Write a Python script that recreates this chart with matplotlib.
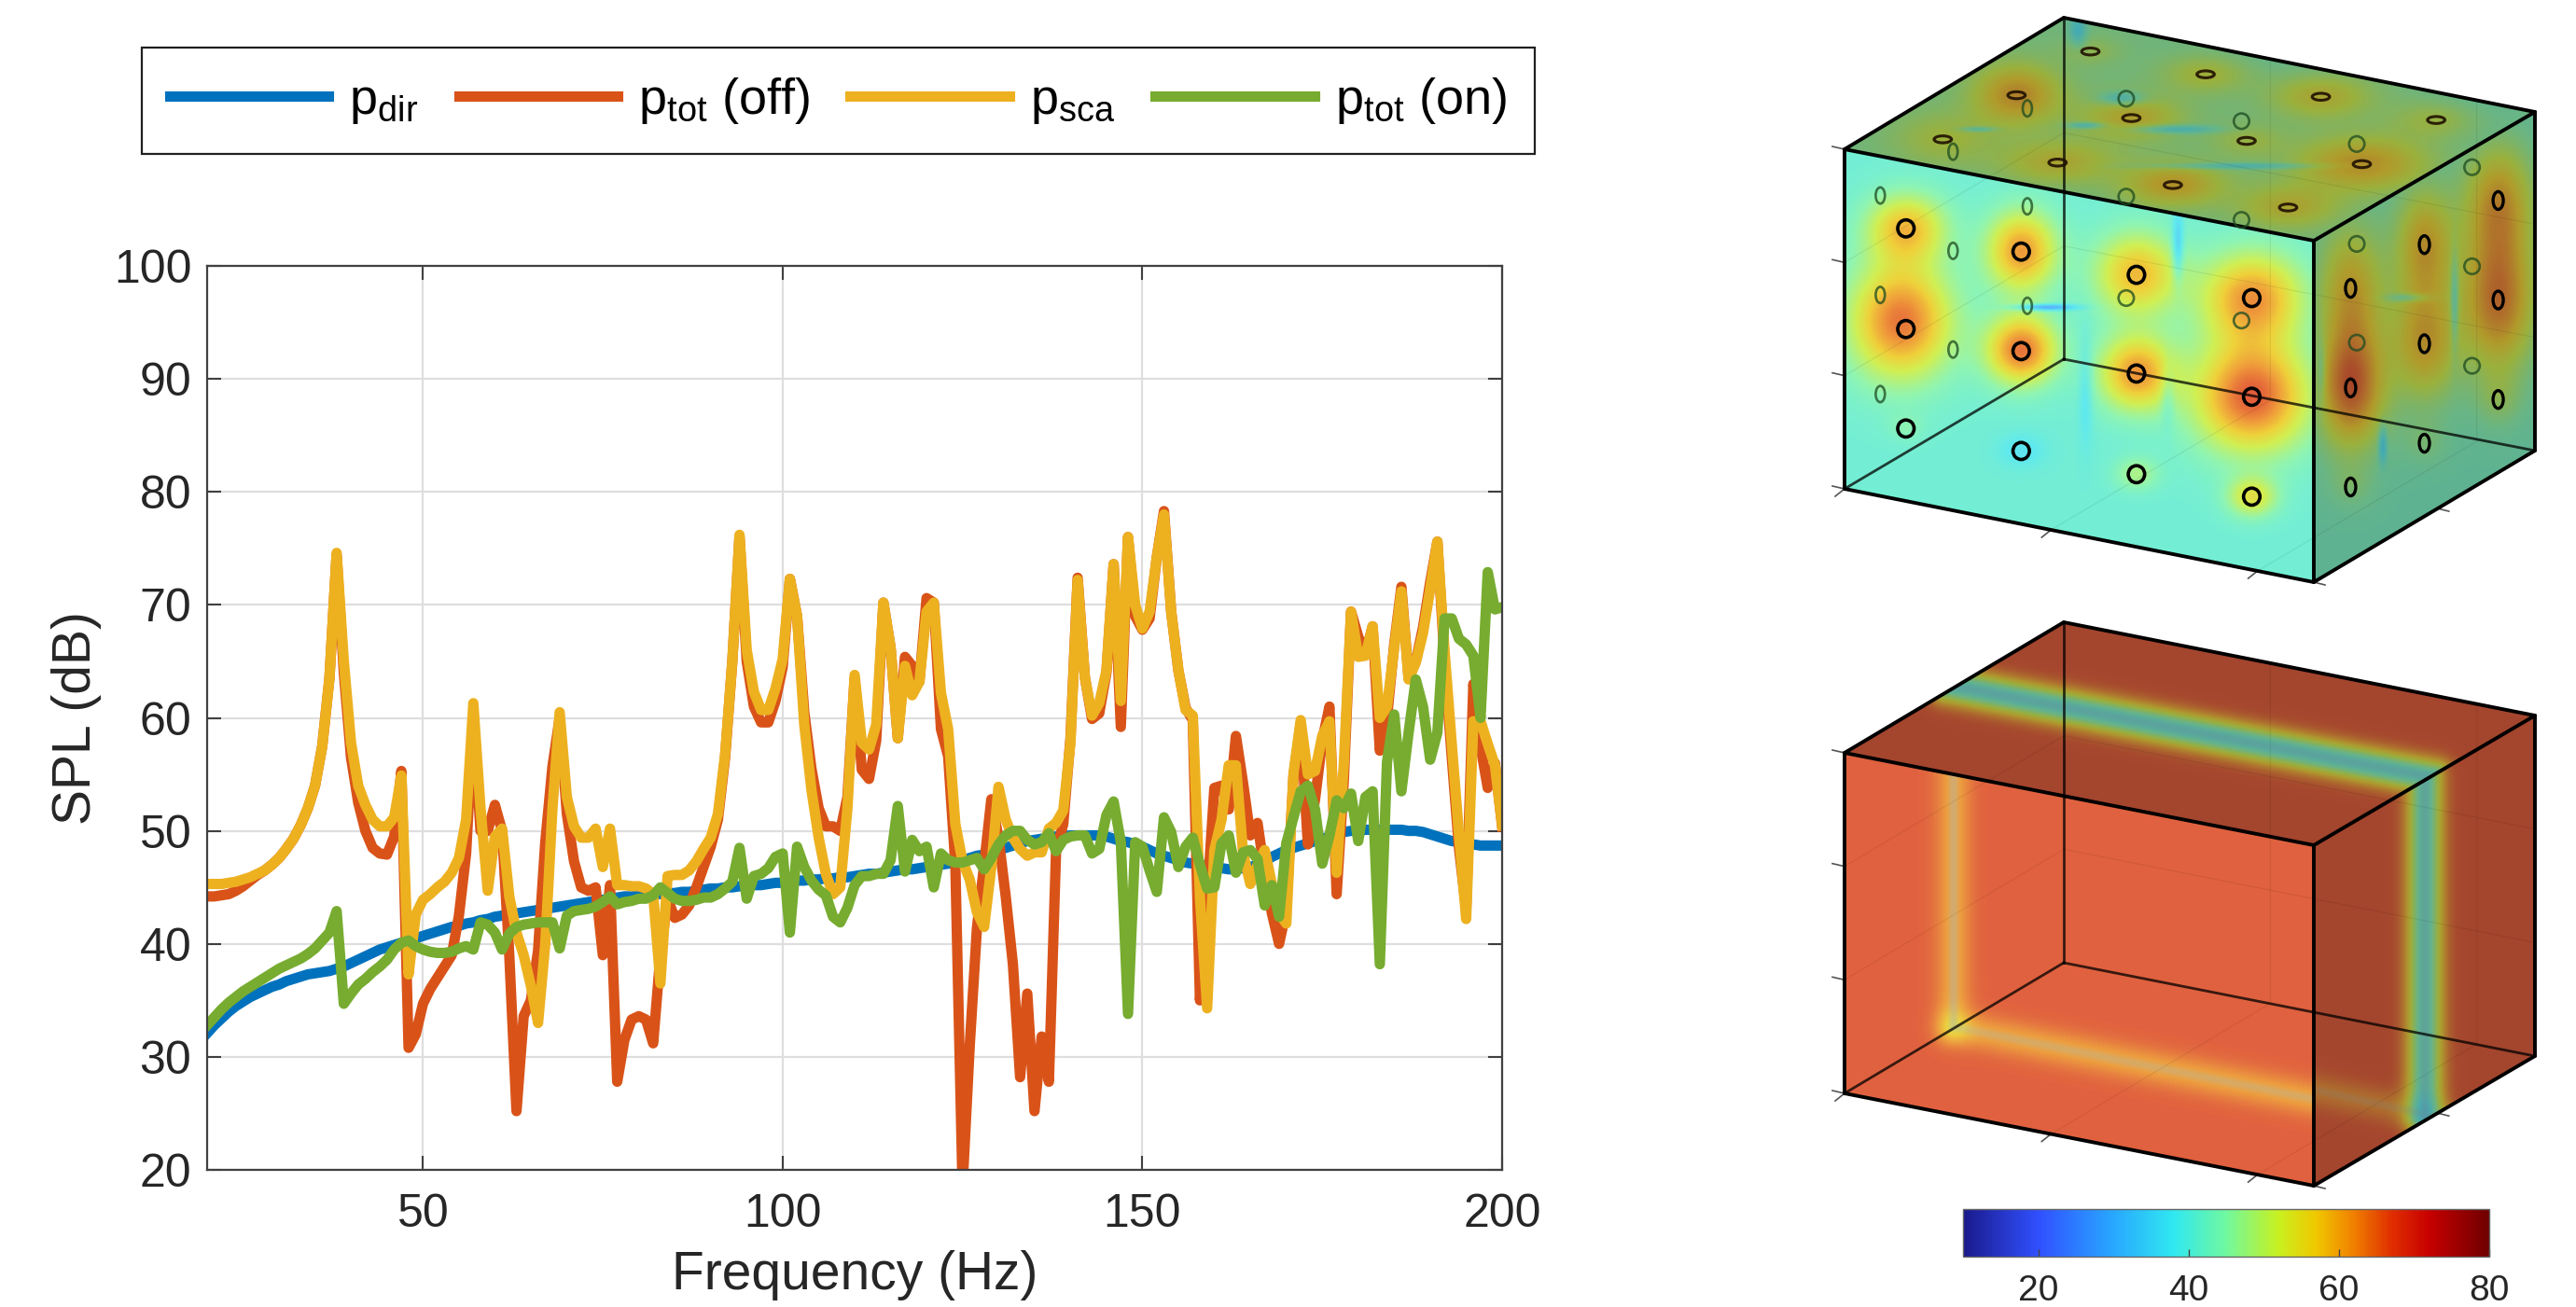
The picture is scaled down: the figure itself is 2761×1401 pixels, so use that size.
import numpy as np
import matplotlib
matplotlib.use('Agg')
import matplotlib.pyplot as plt
from matplotlib.colors import LinearSegmentedColormap, Normalize
from matplotlib.cm import ScalarMappable
from matplotlib.patches import Ellipse, Polygon

plt.rcParams['font.family'] = ['Liberation Sans', 'DejaVu Sans']
plt.rcParams['mathtext.fontset'] = 'custom'
plt.rcParams['mathtext.rm'] = 'Liberation Sans'

W, H = 2761, 1401

# --- spectrum data, 1 Hz steps ---
freq = np.arange(20, 201)
p_dir = [32.1, 32.8, 33.4, 34.0, 34.5, 34.9, 35.3, 35.6, 35.9, 36.2,
         36.4, 36.7, 36.9, 37.1, 37.3, 37.4, 37.5, 37.6, 37.8, 38.0,
         38.3, 38.6, 38.9, 39.2, 39.5, 39.7, 39.9, 40.1, 40.3, 40.5,
         40.7, 40.9, 41.1, 41.3, 41.5, 41.6, 41.8, 41.9, 42.1, 42.2,
         42.4, 42.5, 42.6, 42.7, 42.8, 42.9, 43.0, 43.1, 43.2, 43.3,
         43.4, 43.5, 43.6, 43.7, 43.8, 43.9, 44.0, 44.1, 44.2, 44.2,
         44.3, 44.3, 44.4, 44.4, 44.5, 44.5, 44.6, 44.6, 44.7, 44.8,
         44.9, 44.9, 45.0, 45.0, 45.1, 45.1, 45.2, 45.2, 45.3, 45.4,
         45.4, 45.5, 45.6, 45.6, 45.7, 45.7, 45.8, 45.8, 45.9, 45.9,
         46.0, 46.1, 46.2, 46.2, 46.3, 46.4, 46.5, 46.6, 46.6, 46.7,
         46.8, 46.9, 47.0, 47.1, 47.2, 47.4, 47.6, 47.8, 47.9, 48.1,
         48.3, 48.5, 48.7, 48.9, 49.1, 49.2, 49.3, 49.4, 49.5, 49.5,
         49.6, 49.6, 49.6, 49.6, 49.6, 49.5, 49.3, 49.1, 49.0, 48.8,
         48.6, 48.3, 48.0, 47.8, 47.6, 47.4, 47.2, 47.1, 47.0, 46.9,
         46.8, 46.7, 46.6, 46.6, 46.7, 46.8, 47.0, 47.3, 47.7, 48.0,
         48.3, 48.5, 48.7, 48.9, 49.1, 49.3, 49.5, 49.7, 49.9, 50.0,
         50.0, 50.1, 50.1, 50.1, 50.1, 50.1, 50.1, 50.0, 50.0, 49.9,
         49.7, 49.5, 49.3, 49.1, 49.0, 48.8, 48.8, 48.7, 48.7, 48.7,
         48.7]
p_tot_off = [44.2, 44.2, 44.3, 44.4, 44.7, 45.1, 45.6, 46.1, 46.5, 47.0,
             47.6, 48.4, 49.3, 50.5, 52.0, 54.0, 57.5, 63.5, 74.4, 64.0,
             56.5, 52.5, 50.0, 48.5, 48.0, 47.9, 49.5, 55.3, 30.8, 32.0,
             34.7, 36.0, 37.0, 38.0, 39.0, 42.5, 48.0, 60.0, 50.0, 50.0,
             52.3, 50.0, 39.0, 25.2, 33.6, 35.0, 39.4, 49.0, 55.7, 60.0,
             51.5, 47.3, 45.0, 44.7, 45.0, 39.0, 45.2, 27.8, 31.5, 33.3,
             33.6, 33.3, 31.2, 39.0, 44.0, 42.3, 42.6, 43.4, 45.0, 46.8,
             48.6, 51.0, 56.5, 65.0, 76.0, 65.0, 61.0, 59.6, 59.6, 61.5,
             64.5, 72.3, 69.0, 60.5, 55.5, 52.0, 50.4, 50.4, 50.0, 53.0,
             63.5, 55.4, 54.6, 58.0, 70.2, 66.2, 58.2, 65.4, 64.6, 63.2,
             70.6, 70.2, 59.0, 56.6, 47.0, 18.5, 31.0, 41.4, 47.0, 52.8,
             49.4, 44.2, 38.2, 28.2, 35.6, 25.2, 31.8, 27.8, 48.2, 50.6,
             58.2, 72.4, 63.6, 59.9, 60.4, 64.0, 73.6, 59.2, 76.0, 69.0,
             67.8, 68.8, 74.2, 78.3, 69.4, 64.2, 60.9, 59.8, 35.0, 44.0,
             53.8, 54.0, 51.9, 58.4, 54.2, 49.6, 50.7, 46.3, 42.7, 40.0,
             43.0, 54.8, 59.5, 48.8, 52.8, 58.0, 61.0, 44.4, 54.5, 69.4,
             67.2, 65.6, 68.1, 57.1, 60.0, 66.5, 71.6, 63.5, 65.0, 68.0,
             72.0, 75.6, 65.0, 56.5, 48.5, 43.0, 63.0, 57.5, 53.8, 56.0,
             50.4]
p_sca = [45.3, 45.3, 45.3, 45.4, 45.5, 45.7, 45.9, 46.2, 46.5, 47.0,
         47.6, 48.4, 49.3, 50.5, 52.0, 54.0, 57.5, 63.5, 74.6, 65.0,
         57.8, 54.0, 52.3, 51.0, 50.4, 50.4, 51.2, 54.9, 37.3, 42.6,
         43.9, 44.4, 45.0, 45.5, 46.3, 47.6, 51.0, 61.3, 52.0, 44.7,
         49.5, 50.2, 44.2, 41.0, 39.0, 36.3, 33.0, 40.0, 52.0, 60.5,
         53.0, 50.4, 49.4, 49.4, 50.2, 46.8, 50.2, 45.2, 45.2, 45.1,
         45.1, 44.9, 44.4, 36.5, 46.0, 46.1, 46.1, 46.5, 47.3, 48.4,
         49.4, 51.5, 56.8, 65.0, 76.2, 66.0, 62.3, 60.7, 60.7, 62.6,
         65.2, 72.3, 69.0, 59.4, 53.6, 49.4, 46.2, 44.4, 45.0, 52.0,
         63.8, 57.8, 57.2, 59.4, 70.2, 66.2, 58.2, 64.6, 62.0, 63.2,
         69.4, 70.2, 62.2, 59.0, 50.6, 47.3, 45.7, 42.8, 41.5, 46.8,
         53.9, 51.0, 49.4, 48.4, 47.8, 48.1, 48.1, 50.2, 50.7, 51.8,
         57.8, 72.2, 63.6, 60.2, 61.3, 64.2, 73.6, 61.5, 76.0, 70.0,
         67.9, 69.4, 74.2, 78.0, 69.4, 64.2, 60.7, 60.2, 44.1, 34.3,
         48.3, 51.0, 55.8, 55.8, 48.0, 45.3, 47.0, 48.3, 45.3, 42.7,
         41.8, 55.1, 59.8, 55.0, 55.3, 58.4, 59.7, 46.3, 56.0, 69.4,
         65.4, 65.5, 68.1, 60.0, 61.0, 66.2, 71.2, 63.4, 64.9, 67.5,
         71.4, 75.6, 65.9, 57.7, 49.7, 42.2, 59.7, 59.7, 57.7, 55.8,
         50.5]
p_tot_on = [32.8, 33.5, 34.2, 34.8, 35.3, 35.8, 36.2, 36.6, 37.0, 37.4,
            37.8, 38.1, 38.4, 38.7, 39.1, 39.6, 40.3, 41.0, 42.9, 34.7,
            35.6, 36.4, 36.9, 37.5, 38.0, 38.6, 39.5, 40.1, 40.3, 39.8,
            39.5, 39.3, 39.2, 39.2, 39.3, 39.6, 39.8, 39.5, 41.9, 41.7,
            41.0, 39.5, 40.9, 41.5, 41.7, 41.8, 41.9, 41.9, 41.9, 39.6,
            42.5, 42.9, 43.0, 43.1, 43.3, 43.7, 44.2, 43.5, 43.7, 43.8,
            44.0, 44.0, 44.3, 45.0, 44.5, 44.0, 43.8, 43.8, 43.9, 44.1,
            44.1, 44.4, 44.9, 45.5, 48.5, 44.0, 46.0, 46.2, 46.7, 47.7,
            48.0, 41.0, 48.6, 46.8, 45.6, 44.8, 44.3, 42.4, 41.9, 43.2,
            45.2, 46.0, 46.0, 46.2, 46.2, 47.4, 52.2, 46.4, 49.2, 48.2,
            48.6, 45.0, 48.0, 47.4, 47.2, 47.2, 47.4, 47.6, 46.6, 47.6,
            48.8, 49.6, 50.0, 50.0, 49.2, 48.8, 49.0, 49.8, 48.2, 49.2,
            49.5, 49.6, 49.6, 48.0, 48.4, 51.4, 52.6, 49.0, 33.8, 49.0,
            48.6, 46.5, 44.6, 51.2, 49.9, 46.8, 48.6, 49.4, 47.0, 44.9,
            45.0, 48.9, 49.6, 46.3, 48.1, 48.3, 47.5, 43.4, 45.2, 42.4,
            48.9, 51.2, 53.5, 54.0, 51.9, 47.1, 49.6, 52.7, 52.0, 53.3,
            49.1, 53.0, 53.5, 38.2, 56.1, 60.3, 53.5, 58.7, 63.4, 61.0,
            56.3, 58.7, 68.8, 68.8, 67.0, 66.5, 65.5, 60.0, 72.9, 69.6,
            69.8]

series_labels = [r'p$_{\mathrm{dir}}$', r'p$_{\mathrm{tot}}$ (off)', r'p$_{\mathrm{sca}}$', r'p$_{\mathrm{tot}}$ (on)']
series_colors = ['#0072BD', '#D95319', '#EDB120', '#77AC30']

# --- colour scale ---
cbar_ticks = [20, 40, 60, 80]
cmap_stops = [(10, '#1a1a8c'), (20, '#3050ff'), (30, '#28a8ff'), (38, '#30e8f0'), (45, '#70f8a0'),
              (52, '#c8f020'), (57, '#f0c800'), (62, '#f08000'), (67, '#e03000'), (72, '#c80000'), (80, '#700000')]
field_cmap = LinearSegmentedColormap.from_list('field', [((v - 10) / 70, c) for v, c in cmap_stops])
field_norm = Normalize(10, 80)

# --- box corners in figure pixels: A B C D front, E F G H back ---
box1 = dict(A=(1977, 160), B=(2480, 258), C=(2480, 624), D=(1977, 524),
            E=(2212, 19), F=(2717, 120), G=(2717, 483), H=(2212, 385))
box2 = dict(A=(1977, 807), B=(2480, 906), C=(2480, 1271), D=(1977, 1172),
            E=(2212, 667), F=(2717, 767), G=(2717, 1132), H=(2212, 1032))

# hot spots of the upper box, positions: x, y, sx, sy, dB
front_spots = [(260, 590, 55, 62, 17), (485, 650, 48, 72, 21), (710, 710, 58, 75, 18), (935, 770, 70, 82, 21),
               (250, 830, 70, 105, 24), (485, 905, 48, 62, 24), (710, 965, 52, 68, 21), (935, 1025, 78, 100, 26),
               (260, 1105, 24, 24, 3), (485, 1165, 32, 30, -4), (710, 1225, 30, 30, 7), (935, 1285, 34, 36, 13),
               (790, 640, 8, 60, -10), (530, 795, 40, 6, -16), (610, 1000, 10, 100, -5), (770, 1020, 10, 60, -5)]
right_spots = [(1128, 745, 46, 120, 14), (1272, 632, 40, 105, 15), (1416, 518, 48, 105, 15),
               (1128, 1002, 46, 110, 22), (1272, 888, 46, 105, 15), (1416, 775, 50, 130, 20),
               (1128, 1258, 30, 40, 3), (1272, 1145, 30, 40, 3), (1416, 1032, 30, 50, 4),
               (1190, 1150, 6, 35, -10), (1330, 780, 6, 90, -10), (1240, 770, 30, 8, -8), (1070, 960, 6, 60, -6)]
top_spots = [(620, 133, 40, 25, 4), (845, 192, 60, 35, 7), (1070, 250, 70, 40, 9), (1295, 310, 60, 35, 6),
             (476, 246, 60, 55, 14), (700, 305, 70, 40, 10), (925, 364, 50, 30, 5), (1150, 424, 90, 50, 13),
             (332, 360, 70, 50, 6), (556, 420, 80, 40, 9), (781, 478, 70, 40, 12), (1006, 536, 70, 40, 9),
             (780, 335, 60, 8, -10), (610, 325, 25, 6, -10), (900, 430, 120, 6, -8), (595, 80, 12, 30, -9),
             (680, 255, 30, 12, -10), (400, 335, 25, 5, -8), (1380, 190, 80, 120, -3), (1000, 130, 120, 50, -2)]

# rings seen on the upper box: x, y per group
rings_front = [(260, 590), (485, 650), (710, 710), (935, 770), (260, 850), (485, 907), (710, 965), (935, 1025),
               (260, 1107), (485, 1165), (710, 1225), (935, 1283)]
rings_right = [(1128, 745), (1272, 632), (1416, 518), (1128, 1002), (1272, 888), (1416, 775),
               (1128, 1258), (1272, 1145), (1416, 1032)]
rings_top = [(620, 133), (845, 192), (1070, 250), (1295, 310), (476, 246), (700, 305), (925, 364), (1150, 424),
             (332, 360), (556, 420), (781, 478), (1006, 536)]
rings_left = [(210, 505), (497, 533), (352, 648), (210, 762), (497, 790), (352, 903), (210, 1018), (352, 392), (497, 280)]
rings_back = [(690, 770), (915, 828), (690, 508), (915, 568), (690, 255), (915, 313), (1140, 372), (1365, 432),
              (1140, 630), (1365, 688), (1140, 885), (1365, 945)]

# nodal stripes of the lower box, crop positions: x0, y0, x1, y1, dip, sigma, grey
top_stripes = [(340, 195, 1290, 400, 28, 24, 0.3)]
right_stripes = [(1272, 400, 1272, 1150, 27, 24, 0.3), (1060, 1090, 1300, 1150, 5, 24, 0.3)]
front_stripes = [(352, 200, 352, 950, 6, 24, 0.5), (352, 950, 1057, 1110, 6, 24, 0.4)]


def crop1(x, y):
    return 1900 + x / 1.821, y / 2.41


def crop2(x, y):
    return 1900 + x / 1.821, 640 + y / 2.06


def spot_field(X, Y, base, spots):
    F = np.full(X.shape, float(base))
    for x, y, sx, sy, amp in spots:
        cx, cy = crop1(x, y)
        F += amp * np.exp(-((X - cx) / (sx / 1.821)) ** 2 / 2 - ((Y - cy) / (sy / 2.41)) ** 2 / 2)
    return F, np.full(X.shape, 0.06)


def stripe_field(X, Y, base, stripes):
    F = np.full(X.shape, float(base))
    G = np.full(X.shape, 0.1)
    for x0, y0, x1, y1, dip, sigma, grey in stripes:
        ax_, ay_ = crop2(x0, y0)
        bx_, by_ = crop2(x1, y1)
        dx, dy = bx_ - ax_, by_ - ay_
        t = np.clip(((X - ax_) * dx + (Y - ay_) * dy) / (dx * dx + dy * dy), 0, 1)
        d = np.hypot(X - ax_ - t * dx, Y - ay_ - t * dy)
        F = F - dip * np.exp(-(d / (sigma / 1.821)) ** 2 / 2)
        G = np.maximum(G, grey * np.exp(-(d / 6.0) ** 2))
    return F, G


def draw_face(ax, corners, field, shade):
    pts = np.array(corners, dtype=float)
    x0, y0 = np.floor(pts.min(axis=0)).astype(int)
    x1, y1 = np.ceil(pts.max(axis=0)).astype(int)
    X, Y = np.meshgrid(np.arange(x0, x1 + 1), np.arange(y0, y1 + 1))
    F, G = field(X, Y)
    rgb = field_cmap(field_norm(F))[..., :3]
    rgb = rgb * (1 - G[..., None]) + np.array([0.62, 0.62, 0.6]) * G[..., None]
    rgb = (0.8 * rgb + 0.2) * shade
    im = ax.imshow(rgb, extent=(x0 - 0.5, x1 + 0.5, y1 + 0.5, y0 - 0.5), interpolation='bilinear', zorder=1)
    im.set_clip_path(Polygon(pts, closed=True, transform=ax.transData))


def draw_box_lines(ax, box):
    P = {k: np.array(v, dtype=float) for k, v in box.items()}
    # faint grid first
    for f in (1 / 3, 2 / 3):
        q = P['D'] + (P['A'] - P['D']) * f
        r = q + P['H'] - P['D']
        ax.plot([q[0], r[0], r[0] + P['G'][0] - P['H'][0]], [q[1], r[1], r[1] + P['G'][1] - P['H'][1]],
                color='k', lw=0.8, alpha=0.08, zorder=2)
    for f in (0.44, 0.88):
        q = P['D'] + (P['C'] - P['D']) * f
        r = q + P['H'] - P['D']
        ax.plot([q[0], r[0], r[0] + P['E'][0] - P['H'][0]], [q[1], r[1], r[1] + P['E'][1] - P['H'][1]],
                color='k', lw=0.8, alpha=0.08, zorder=2)
    # edges behind
    for a, b in ['EH', 'HD', 'HG']:
        ax.plot([P[a][0], P[b][0]], [P[a][1], P[b][1]], color='k', lw=2.0, alpha=0.75, zorder=4)
    # edges in front
    for a, b in ['AB', 'BC', 'CD', 'DA', 'AE', 'EF', 'FB', 'FG', 'GC']:
        ax.plot([P[a][0], P[b][0]], [P[a][1], P[b][1]], color='k', lw=2.8, zorder=5, solid_capstyle='round')
    # outer ticks
    for f in (0, 1 / 3, 2 / 3, 1):
        q = P['D'] + (P['A'] - P['D']) * f
        ax.plot([q[0] - 13, q[0]], [q[1] - 3, q[1]], color='#555555', lw=1.2, zorder=3)
    for f in (0, 0.44, 0.88):
        q = P['D'] + (P['C'] - P['D']) * f
        ax.plot([q[0] - 10, q[0]], [q[1] + 8, q[1]], color='#555555', lw=1.2, zorder=3)
    for f in (0, 0.56):
        q = P['C'] + (P['G'] - P['C']) * f
        ax.plot([q[0], q[0] + 12], [q[1], q[1] + 3], color='#555555', lw=1.2, zorder=3)


def draw_box(ax, box, front, right, top, shade=0.74):
    draw_face(ax, [box['A'], box['B'], box['C'], box['D']], front, 1.0)
    draw_face(ax, [box['B'], box['F'], box['G'], box['C']], right, shade)
    draw_face(ax, [box['A'], box['E'], box['F'], box['B']], top, shade)
    draw_box_lines(ax, box)


fig = plt.figure(figsize=(W / 100, H / 100), dpi=100, facecolor='white')

# --- boxes on a full-figure pixel axes ---
pix = fig.add_axes([0, 0, 1, 1])
pix.set_xlim(0, W)
pix.set_ylim(H, 0)
pix.axis('off')

draw_box(pix, box1,
         lambda X, Y: spot_field(X, Y, 41, front_spots),
         lambda X, Y: spot_field(X, Y, 43, right_spots),
         lambda X, Y: spot_field(X, Y, 46, top_spots))
draw_box(pix, box2,
         lambda X, Y: stripe_field(X, Y, 67, front_stripes),
         lambda X, Y: stripe_field(X, Y, 67.5, right_stripes),
         lambda X, Y: stripe_field(X, Y, 67.5, top_stripes))
pix.set_xlim(0, W)
pix.set_ylim(H, 0)
pix.set_aspect('auto')

for group, w, h, col, a, lw in [(rings_left, 18, 42, '#1c4a20', 0.75, 1.9), (rings_back, 30, 40, '#1c4a20', 0.75, 1.9),
                                (rings_front, 32, 44, 'k', 1.0, 2.6), (rings_right, 20, 46, 'k', 1.0, 2.4),
                                (rings_top, 34, 18, '#201000', 0.9, 2.2)]:
    for x, y in group:
        cx, cy = crop1(x, y)
        pix.add_patch(Ellipse((cx, cy), w / 1.821, h / 2.41, fill=False, edgecolor=col, alpha=a, lw=lw, zorder=6))

# --- spectrum ---
ax = fig.add_axes([222 / W, 1 - 1254 / H, 1388 / W, 969 / H])
for y, c, lab in zip([p_dir, p_tot_off, p_sca, p_tot_on], series_colors, series_labels):
    ax.plot(freq, y, color=c, lw=8, label=lab, solid_joinstyle='round')
ax.set_xlim(20, 200)
ax.set_ylim(20, 100)
ax.set_xticks([50, 100, 150, 200])
ax.set_yticks(range(20, 101, 10))
ax.grid(True, color='#dedede', lw=1.6)
ax.set_axisbelow(True)
ax.tick_params(direction='in', length=11, width=1.5, color='#404040', top=True, right=True,
               labelsize=36, labelcolor='#262626', pad=12)
ax.tick_params(axis='x', pad=18)
for s in ax.spines.values():
    s.set_color('#404040')
    s.set_linewidth(1.6)
ax.set_xlabel('Frequency (Hz)', fontsize=41, color='#262626', labelpad=11)
ax.set_ylabel('SPL (dB)', fontsize=41, color='#262626', labelpad=9)

leg = fig.legend(*ax.get_legend_handles_labels(), loc='upper left', bbox_to_anchor=(152 / W, 1 - 51 / H), ncol=4,
                 fontsize=39, frameon=True, fancybox=False, framealpha=1, edgecolor='#202020', borderaxespad=0,
                 handlelength=3.15, handletextpad=0.4, columnspacing=0.8, borderpad=0.55)
leg.get_frame().set_linewidth(1.6)

# --- colour bar ---
cax = fig.add_axes([2104 / W, 1 - 1347 / H, 564 / W, 51 / H])
cb = fig.colorbar(ScalarMappable(field_norm, field_cmap), cax=cax, orientation='horizontal')
cb.set_ticks(cbar_ticks)
cb.outline.set_edgecolor('#666666')
cb.outline.set_linewidth(1.0)
cax.tick_params(direction='in', length=6, width=1.0, color='#444444', labelsize=28, labelcolor='#262626', pad=14)

fig.savefig('out.png', dpi=100)
